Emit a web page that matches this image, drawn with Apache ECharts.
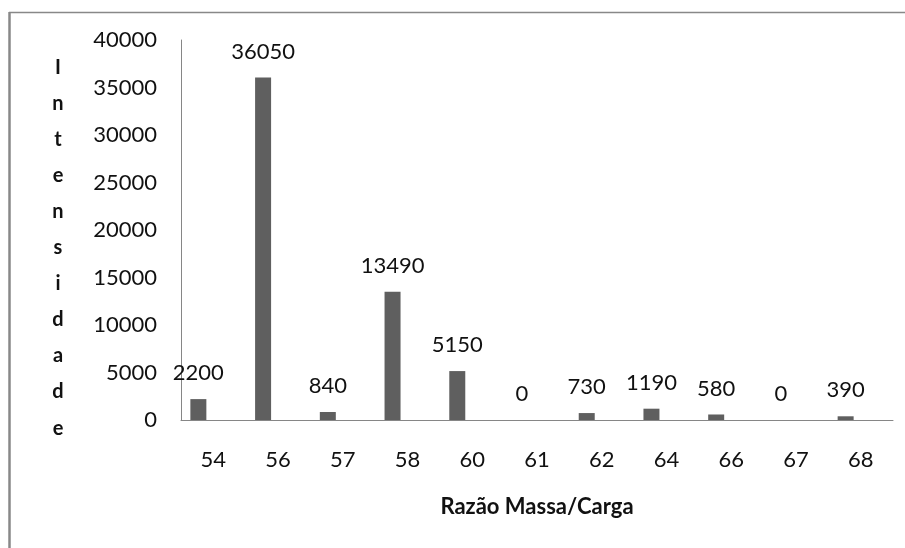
<!DOCTYPE html>
<html>
<head>
<meta charset="utf-8">
<script src="https://cdn.jsdelivr.net/npm/echarts@6/dist/echarts.min.js"></script>
<style>
  html, body { margin: 0; padding: 0; background: #fff; }
  #chart { width: 905px; height: 548px; }
</style>
</head>
<body>
<div id="chart"></div>
<script>
// m/z categories and measured intensities
const categories = ['54', '56', '57', '58', '60', '61', '62', '64', '66', '67', '68'];
const intensities = [2200, 36050, 840, 13490, 5150, 0, 730, 1190, 580, 0, 390];
const yTicks = [0, 5000, 10000, 15000, 20000, 25000, 30000, 35000, 40000];
const yTitle = 'Intensidade';
const xTitle = 'Razão Massa/Carga';

const FONT = 'Lato, "Open Sans", "DejaVu Sans", sans-serif';
const chart = echarts.init(document.getElementById('chart'));

chart.setOption({
  animation: false,
  backgroundColor: '#ffffff',
  textStyle: { fontFamily: FONT },
  grid: { left: 181, right: 12, top: 40, bottom: 128, containLabel: false },
  xAxis: {
    type: 'category',
    data: categories,
    axisLine: { show: true, lineStyle: { color: '#868686', width: 1 } },
    axisTick: { show: false },
    axisLabel: { color: '#111', fontSize: 22, margin: 29, fontFamily: FONT },
    name: xTitle,
    nameLocation: 'middle',
    nameGap: 76,
    nameTextStyle: { color: '#111', fontSize: 22, fontWeight: 'bold', fontFamily: FONT }
  },
  yAxis: {
    type: 'value',
    min: yTicks[0],
    max: yTicks[yTicks.length - 1],
    interval: yTicks[1] - yTicks[0],
    axisLine: { show: true, lineStyle: { color: '#868686', width: 1 } },
    axisTick: { show: false },
    splitLine: { show: false },
    axisLabel: {
      color: '#111', fontSize: 22, margin: 24, fontFamily: FONT,
      formatter: (v) => String(v)
    }
  },
  series: [
    {
      type: 'bar',
      data: intensities,
      barWidth: 16,
      barGap: '87.5%',
      itemStyle: { color: '#5f5f5f' },
      label: {
        show: true,
        position: 'top',
        distance: 15,
        color: '#111',
        fontSize: 22,
        fontFamily: FONT
      }
    },
    {
      // empty companion series keeps the clustered bar offset
      type: 'bar',
      data: categories.map(() => null),
      barWidth: 16,
      itemStyle: { color: 'transparent' }
    }
  ],
  graphic: [
    { type: 'line', shape: { x1: 9, y1: 12.5, x2: 905, y2: 12.5 }, style: { stroke: '#888', lineWidth: 1.5 } },
    { type: 'line', shape: { x1: 9.5, y1: 12, x2: 9.5, y2: 548 }, style: { stroke: '#888', lineWidth: 2.5 } },
    {
      // vertical stacked-letter axis title
      type: 'text',
      x: 58,
      y: 49,
      style: {
        text: yTitle.split('').join('\n'),
        fill: '#111',
        font: 'bold 20px ' + FONT,
        lineHeight: 36.1,
        align: 'center',
        verticalAlign: 'top'
      }
    }
  ]
});
</script>
</body>
</html>
